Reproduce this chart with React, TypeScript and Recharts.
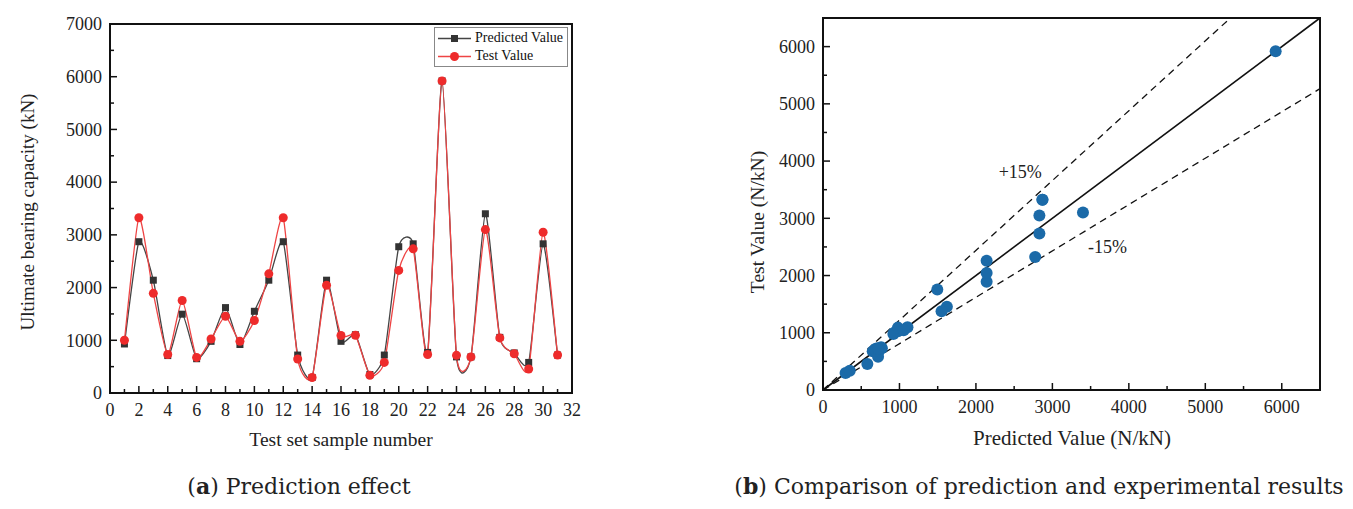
import type { ReactElement } from "react";
import {
  LineChart,
  Line,
  ScatterChart,
  Scatter,
  XAxis,
  YAxis,
  ReferenceArea,
  ReferenceLine,
  ReferenceDot,
} from "recharts";

// Gia tri doc tu hinh, mau 1..31
const sampleNo = [
  1, 2, 3, 4, 5, 6, 7, 8, 9, 10, 11, 12, 13, 14, 15, 16, 17, 18, 19, 20, 21, 22, 23, 24, 25, 26, 27, 28, 29, 30, 31,
];
const predicted = [
  930, 2870, 2140, 710, 1495, 650, 980, 1620, 920, 1550, 2140, 2870, 720, 295, 2140, 980, 1105, 350, 720, 2775, 2830,
  770, 5920, 685, 685, 3400, 1055, 760, 580, 2830, 720,
];
const tested = [
  1000, 3325, 1890, 730, 1755, 675, 1025, 1455, 980, 1375, 2260, 3325, 645, 295, 2045, 1090, 1095, 335, 580, 2325, 2735,
  730, 5920, 715, 685, 3100, 1045, 745, 455, 3050, 720,
];

const leftXTicks = Array.from({ length: 33 }, (_, i) => i);
const leftYTicks = Array.from({ length: 15 }, (_, i) => i * 500);
const rightTicks = Array.from({ length: 14 }, (_, i) => i * 500);

// Duong ty le: y = x va hai duong lech
const upperSlope = 1.22;
const lowerSlope = 0.81;
const axisMax = 6500;

const serif = '"Liberation Serif", "Times New Roman", serif';
const captionFont = '"DejaVu Serif", serif';
const black = "#111";

const lineData = sampleNo.map((n, i) => ({ n, predicted: predicted[i], tested: tested[i] }));
const scatterData = predicted.map((p, i) => ({ x: p, y: tested[i] }));

// Spline cardinal cang (it vot lo), giong kieu noi cua Origin
function tightSpline(context: any) {
  let pts: number[][] = [];
  const k = 0.1;
  return {
    areaStart() {},
    areaEnd() {},
    lineStart() {
      pts = [];
    },
    point(x: number, y: number) {
      pts.push([+x, +y]);
    },
    lineEnd() {
      const n = pts.length;
      if (!n) return;
      context.moveTo(pts[0][0], pts[0][1]);
      for (let i = 0; i < n - 1; i++) {
        const p0 = pts[i - 1] || pts[i];
        const p1 = pts[i];
        const p2 = pts[i + 1];
        const p3 = pts[i + 2] || p2;
        context.bezierCurveTo(
          p1[0] + (p2[0] - p0[0]) * k,
          p1[1] + (p2[1] - p0[1]) * k,
          p2[0] - (p3[0] - p1[0]) * k,
          p2[1] - (p3[1] - p1[1]) * k,
          p2[0],
          p2[1],
        );
      }
    },
  };
}

// Vach chia huong vao trong, chi ghi so o vach chinh
function BottomTick(props: any): ReactElement {
  const { x, y, payload, major } = props;
  const isMajor = major(payload.value);
  return (
    <g>
      <line x1={x} y1={y} x2={x} y2={y - (isMajor ? 7 : 4)} stroke={black} strokeWidth={1.5} />
      {isMajor && (
        <text x={x} y={y + 23} textAnchor="middle" fontFamily={serif} fontSize={18} fill="#222">
          {payload.value}
        </text>
      )}
    </g>
  );
}

function LeftTick(props: any): ReactElement {
  const { x, y, payload, major } = props;
  const isMajor = major(payload.value);
  return (
    <g>
      <line x1={x} y1={y} x2={x + (isMajor ? 7 : 4)} y2={y} stroke={black} strokeWidth={1.5} />
      {isMajor && (
        <text x={x - 8} y={y} dy="0.35em" textAnchor="end" fontFamily={serif} fontSize={18} fill="#222">
          {payload.value}
        </text>
      )}
    </g>
  );
}

function SquareDot(props: any): ReactElement {
  const { cx, cy } = props;
  return <rect x={cx - 3.5} y={cy - 3.5} width={7} height={7} fill="#333" />;
}

function RoundDot(props: any): ReactElement {
  const { cx, cy } = props;
  return <circle cx={cx} cy={cy} r={4.5} fill="#ee2b2b" />;
}

function BlueDot(props: any): ReactElement {
  const { cx, cy } = props;
  return <circle cx={cx} cy={cy} r={6} fill="#1b6aa8" />;
}

function LegendBox(): ReactElement {
  const rows = [
    { label: "Predicted Value", color: "#444", dot: <rect x={14} y={4} width={7} height={7} fill="#333" /> },
    { label: "Test Value", color: "#ee4444", dot: <circle cx={17.5} cy={7.5} r={4.5} fill="#ee2b2b" /> },
  ];
  return (
    <div
      style={{
        position: "absolute",
        left: 434,
        top: 27,
        border: "1px solid #888",
        background: "#fff",
        padding: "1px 4px 1px 2px",
        fontFamily: serif,
        fontSize: 14,
        lineHeight: "18px",
        color: "#111",
      }}
    >
      {rows.map((r) => (
        <div key={r.label} style={{ display: "flex", alignItems: "center" }}>
          <svg width={36} height={15}>
            <line x1={1} y1={7.5} x2={34} y2={7.5} stroke={r.color} strokeWidth={1.3} />
            {r.dot}
          </svg>
          <span style={{ marginLeft: 2 }}>{r.label}</span>
        </div>
      ))}
    </div>
  );
}

const textStyle = { position: "absolute" as const, fontFamily: serif, color: "#222", whiteSpace: "nowrap" as const };

export default function App(): ReactElement {
  return (
    <div style={{ position: "absolute", left: 0, top: 0, width: 1353, height: 509, background: "#fff" }}>
      <div style={{ position: "absolute", left: 0, top: 0 }}>
        <LineChart width={600} height={420} data={lineData} margin={{ top: 24, right: 28, left: 109, bottom: 26 }}>
          <XAxis
            dataKey="n"
            type="number"
            domain={[0, 32]}
            ticks={leftXTicks}
            interval={0}
            height={1}
            tickSize={0}
            tickMargin={0}
            axisLine={{ stroke: black, strokeWidth: 2 }}
            tick={<BottomTick major={(v: number) => v % 2 === 0} />}
          />
          <YAxis
            type="number"
            domain={[0, 7000]}
            ticks={leftYTicks}
            interval={0}
            width={1}
            tickSize={0}
            tickMargin={0}
            axisLine={{ stroke: black, strokeWidth: 2 }}
            tick={<LeftTick major={(v: number) => v % 1000 === 0} />}
          />
          <ReferenceArea x1={0} x2={32} y1={0} y2={7000} fill="none" stroke={black} strokeWidth={2} />
          <Line
            dataKey="predicted"
            type={tightSpline as any}
            stroke="#444"
            strokeWidth={1.3}
            dot={<SquareDot />}
            isAnimationActive={false}
          />
          <Line
            dataKey="tested"
            type={tightSpline as any}
            stroke="#ee4444"
            strokeWidth={1.3}
            dot={<RoundDot />}
            isAnimationActive={false}
          />
        </LineChart>
        <LegendBox />
      </div>

      <div style={{ position: "absolute", left: 700, top: 0 }}>
        <ScatterChart width={653} height={420} margin={{ top: 18, right: 33, left: 122, bottom: 29 }}>
          <XAxis
            dataKey="x"
            type="number"
            domain={[0, axisMax]}
            ticks={rightTicks}
            interval={0}
            height={1}
            tickSize={0}
            tickMargin={0}
            axisLine={{ stroke: black, strokeWidth: 2 }}
            tick={<BottomTick major={(v: number) => v % 1000 === 0} />}
          />
          <YAxis
            dataKey="y"
            type="number"
            domain={[0, axisMax]}
            ticks={rightTicks}
            interval={0}
            width={1}
            tickSize={0}
            tickMargin={0}
            axisLine={{ stroke: black, strokeWidth: 2 }}
            tick={<LeftTick major={(v: number) => v % 1000 === 0} />}
          />
          <ReferenceArea x1={0} x2={axisMax} y1={0} y2={axisMax} fill="none" stroke={black} strokeWidth={2} />
          <ReferenceLine
            segment={[
              { x: 0, y: 0 },
              { x: axisMax, y: axisMax },
            ]}
            stroke={black}
            strokeWidth={1.6}
          />
          <ReferenceLine
            segment={[
              { x: 0, y: 0 },
              { x: axisMax / upperSlope, y: axisMax },
            ]}
            stroke={black}
            strokeWidth={1.3}
            strokeDasharray="7 5"
          />
          <ReferenceLine
            segment={[
              { x: 0, y: 0 },
              { x: axisMax, y: axisMax * lowerSlope },
            ]}
            stroke={black}
            strokeWidth={1.3}
            strokeDasharray="7 5"
          />
          <ReferenceDot
            x={2580}
            y={3810}
            r={0}
            fill="none"
            stroke="none"
            label={{ value: "+15%", position: "center", fontFamily: serif, fontSize: 18, fill: "#222" }}
          />
          <ReferenceDot
            x={3720}
            y={2500}
            r={0}
            fill="none"
            stroke="none"
            label={{ value: "-15%", position: "center", fontFamily: serif, fontSize: 18, fill: "#222" }}
          />
          <Scatter data={scatterData} shape={<BlueDot />} isAnimationActive={false} />
        </ScatterChart>
      </div>

      <div
        style={{
          ...textStyle,
          fontSize: 19,
          left: 28,
          top: 212,
          transform: "translate(-50%, -50%) rotate(-90deg)",
        }}
      >
        Ultimate bearing capacity (kN)
      </div>
      <div style={{ ...textStyle, fontSize: 19.5, left: 341, top: 440, transform: "translate(-50%, -50%)" }}>
        Test set sample number
      </div>
      <div
        style={{
          ...textStyle,
          fontSize: 19.5,
          left: 758,
          top: 222,
          transform: "translate(-50%, -50%) rotate(-90deg)",
        }}
      >
        Test Value (N/kN)
      </div>
      <div style={{ ...textStyle, fontSize: 21, left: 1072, top: 438, transform: "translate(-50%, -50%)" }}>
        Predicted Value (N/kN)
      </div>

      <div
        style={{
          ...textStyle,
          fontFamily: captionFont,
          fontSize: 22,
          left: 299,
          top: 486,
          transform: "translate(-50%, -50%)",
        }}
      >
        (<b>a</b>) Prediction effect
      </div>
      <div
        style={{
          ...textStyle,
          fontFamily: captionFont,
          fontSize: 22,
          left: 1039,
          top: 486,
          transform: "translate(-50%, -50%)",
        }}
      >
        (<b>b</b>) Comparison of prediction and experimental results
      </div>
    </div>
  );
}
